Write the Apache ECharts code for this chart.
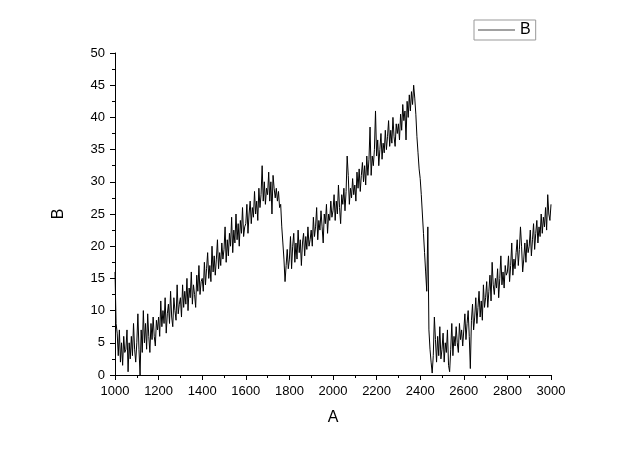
<!DOCTYPE html>
<html>
<head>
<meta charset="utf-8">
<script src="https://cdn.jsdelivr.net/npm/echarts@6/dist/echarts.min.js"></script>
<style>
  html, body { margin: 0; padding: 0; background: #fff; }
  #chart { width: 640px; height: 452px; }
</style>
</head>
<body>
<div id="chart"></div>
<script>
const A_START = 1000
const A_STEP = 5

const b1000 = [16, 8, 6.5, 3, 7, 2, 5, 1.5, 6, 3.5, 4, 7, 0.5, 5, 2.5, 6, 3, 8, 4, 2]
const b1100 = [5, 9.5, 4, 0, 7, 3.5, 10, 5, 8, 4, 9.5, 6, 3.5, 8, 5.5, 9, 6, 4.5, 8.5, 7]
const b1200 = [9, 6, 11.5, 7.5, 10, 8, 12, 6.5, 9.5, 11, 8, 13, 9, 7.5, 12, 10, 8.5, 14, 9.5, 11]
const b1300 = [12, 9, 14, 10.5, 13, 11, 15, 10, 13.5, 12, 16, 11, 14, 12.5, 10.5, 15.5, 13, 17, 12.5, 14.5]
const b1400 = [15, 13, 17.5, 14, 16.5, 19, 15, 17, 14.5, 20, 16, 18.5, 15.5, 18, 21, 16.5, 19, 17, 20.5, 18]
const b1500 = [19.5, 23, 17.5, 21, 18.5, 22, 20, 24.5, 19, 22.5, 20.5, 25, 21, 23.5, 20, 24, 22, 26, 21.5, 23]
const b1600 = [23.5, 26.5, 22, 25, 27, 23.5, 26, 24.5, 28.5, 25, 27, 24, 29, 26, 28, 32.5, 27, 30, 26.5, 29]
const b1700 = [28, 31.5, 27, 30, 25, 31, 29, 27.5, 29, 27, 28.5, 26, 26.5, 23, 20.5, 18, 14.5, 17, 19.5, 16.5]
const b1800 = [18, 21.5, 16.5, 20, 22, 17.5, 20.5, 18, 22.5, 19, 21, 17, 20.5, 22, 18.5, 21.5, 19.5, 23, 20, 21]
const b1900 = [22.5, 20, 24.5, 21.5, 23, 26, 21, 24, 22.5, 25.5, 23, 20.5, 25, 23.5, 26.5, 22, 25, 24, 27, 24.5]
const b2000 = [25.5, 28, 24, 27, 25, 29.5, 26, 23.5, 28, 26.5, 29, 25.5, 28.5, 34, 31, 26.5, 29, 27.5, 30.5, 28]
const b2100 = [29.5, 27, 31.5, 29, 32, 28.5, 31, 33, 30, 32.5, 29.5, 34, 31, 33.5, 38.5, 31, 34, 32.5, 35, 41]
const b2200 = [34, 36.5, 32.5, 35, 37.5, 33.5, 36, 34.5, 38, 35, 37, 39.5, 35.5, 38, 36, 40, 37, 35.5, 39, 37.5]
const b2300 = [39, 36.5, 40.5, 38, 42, 39.5, 41, 36.5, 42.5, 40, 43.5, 41, 44, 42, 45, 43, 40.5, 37, 34.5, 32]
const b2400 = [30.5, 28, 25, 22, 19, 16, 13, 23, 7, 4, 2, 0.3, 3, 9, 5.5, 2, 6, 3, 7.5, 2.5]
const b2500 = [4, 6.5, 2, 5, 3.5, 7, 1.5, 0.5, 4, 8, 3, 6, 4.5, 7.5, 5, 3.5, 8, 5.5, 7, 4.5]
const b2600 = [7, 9.5, 5.5, 8, 10, 6, 1, 8.5, 11, 7, 9, 12, 8, 10.5, 13, 9, 11.5, 8.5, 14, 10.5]
const b2700 = [12, 14.5, 10.5, 13, 15.5, 11.5, 17.5, 14, 12.5, 15, 13.5, 16.5, 12, 15, 18.5, 14, 16, 13.5, 17, 15.5]
const b2800 = [16, 18.5, 14.5, 17, 20.5, 15.5, 18, 16.5, 19, 21, 17, 19.5, 23, 20, 16, 18, 20.5, 17.5, 21, 19]
const b2900 = [20, 22.5, 18.5, 21, 23.5, 19.5, 22, 24, 20.5, 23, 21.5, 25, 22, 24.5, 23, 26, 22.5, 28, 25, 24]
const b3000 = [26.5]

const bValues = [].concat(b1000, b1100, b1200, b1300, b1400, b1500, b1600, b1700, b1800, b1900,
  b2000, b2100, b2200, b2300, b2400, b2500, b2600, b2700, b2800, b2900, b3000)

const seriesData = bValues.map((b, i) => [A_START + i * A_STEP, b])

const FONT = "'Liberation Sans', Arial, sans-serif"

const chart = echarts.init(document.getElementById('chart'))

const option = {
  animation: false,
  backgroundColor: '#fff',
  grid: {
    left: 115,
    right: 89,
    top: 53,
    bottom: 77
  },
  legend: {
    left: 474,
    top: 20,
    padding: [2, 5, 2, 4],
    borderColor: '#999',
    borderWidth: 1,
    borderRadius: 0,
    icon: 'rect',
    itemWidth: 37,
    itemHeight: 1,
    itemStyle: { color: '#444' },
    textStyle: { fontFamily: FONT, fontSize: 16, color: '#000', lineHeight: 16 },
    data: ['B']
  },
  xAxis: {
    type: 'value',
    min: 1000,
    max: 3000,
    interval: 200,
    name: 'A',
    nameLocation: 'middle',
    nameGap: 35,
    nameTextStyle: { fontFamily: FONT, fontSize: 16, color: '#000' },
    axisLine: { lineStyle: { color: '#000', width: 1 } },
    axisTick: { show: true, length: 5, lineStyle: { color: '#000' } },
    minorTick: { show: true, splitNumber: 2, length: 3, lineStyle: { color: '#000' } },
    axisLabel: { fontFamily: FONT, fontSize: 13, color: '#000', margin: 10, formatter: v => String(v) },
    splitLine: { show: false }
  },
  yAxis: {
    type: 'value',
    min: 0,
    max: 50,
    interval: 5,
    name: 'B',
    nameLocation: 'middle',
    nameGap: 48,
    nameTextStyle: { fontFamily: FONT, fontSize: 16, color: '#000' },
    axisLine: { show: true, lineStyle: { color: '#000', width: 1 } },
    axisTick: { show: true, length: 5, lineStyle: { color: '#000' } },
    minorTick: { show: true, splitNumber: 2, length: 3, lineStyle: { color: '#000' } },
    axisLabel: { fontFamily: FONT, fontSize: 13, color: '#000', margin: 10 },
    splitLine: { show: false }
  },
  series: [
    {
      name: 'B',
      type: 'line',
      data: seriesData,
      symbol: 'none',
      lineStyle: { color: '#000', width: 1 },
      itemStyle: { color: '#000' }
    }
  ]
}

chart.setOption(option)
</script>
</body>
</html>
